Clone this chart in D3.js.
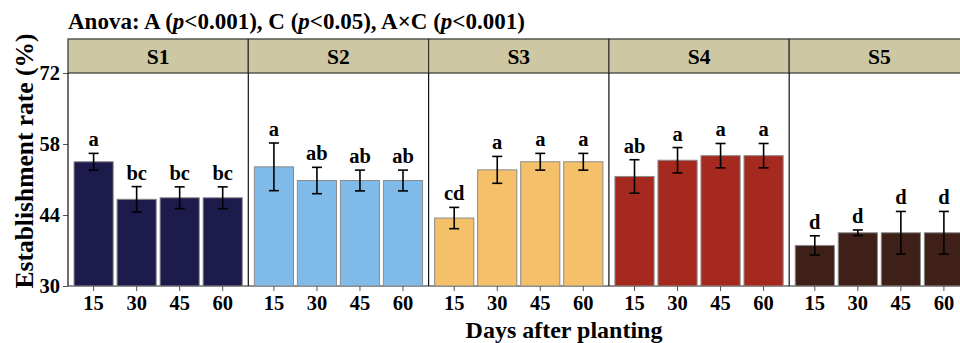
<!DOCTYPE html>
<html>
<head>
<meta charset="utf-8">
<script src="https://cdn.jsdelivr.net/npm/d3@7"></script>
<style>
  body { margin: 0; background: #fff; }
  svg { display: block; }
  text { font-family: "Liberation Serif", "Times New Roman", serif; font-weight: bold; }
</style>
</head>
<body>
<svg id="chart" width="960" height="343"></svg>
<script>
// data
const panels = ["S1", "S2", "S3", "S4", "S5"];
const days = ["15", "30", "45", "60"];
const colors = ["#1d1b4c", "#7fbae8", "#f4c06a", "#a6291f", "#3e2018"];
const means = [
    [54.5, 47.1, 47.4, 47.4],
    [53.5, 50.8, 50.8, 50.8],
    [43.4, 52.9, 54.5, 54.5],
    [51.6, 54.8, 55.7, 55.7],
    [38.0, 40.5, 40.5, 40.5]
];
const errs = [
    [1.65, 2.5, 2.15, 2.15],
    [4.7, 2.6, 2.05, 2.05],
    [2.1, 2.65, 1.65, 1.65],
    [3.3, 2.5, 2.4, 2.4],
    [1.9, 0.55, 4.2, 4.2]
];
const letters = [
    ["a", "bc", "bc", "bc"],
    ["a", "ab", "ab", "ab"],
    ["cd", "a", "a", "a"],
    ["ab", "a", "a", "a"],
    ["d", "d", "d", "d"]
];
const yTicks = [30, 44, 58, 72];

const svg = d3.select("#chart");
const left = 68, panelW = 180.3;
const stripTop = 39, plotTop = 73, plotBottom = 286;

const y = d3.scaleLinear().domain([30, 72]).range([plotBottom, plotTop]);
const px = d3.scaleBand().domain(panels).range([left, left + panelW * panels.length]);
const x = d3.scaleBand().domain(days).range([0, panelW]).paddingInner(0.09).paddingOuter(0.14);

// title
const title = svg.append("text")
    .attr("x", left)
    .attr("y", 29)
    .style("font-size", "23px");
const parts = [["Anova: A (", false], ["p", true], ["<0.001), C (", false], ["p", true],
               ["<0.05), A\u00d7C (", false], ["p", true], ["<0.001)", false]];
parts.forEach(p => title.append("tspan").text(p[0]).style("font-style", p[1] ? "italic" : "normal"));

// y axis
const yAxis = svg.append("g")
    .attr("transform", `translate(${left},0)`)
    .call(d3.axisLeft(y).tickValues(yTicks).tickSize(5).tickPadding(3));
yAxis.select(".domain").remove();
yAxis.selectAll(".tick line").attr("stroke", "#555");
yAxis.selectAll(".tick text").style("font-size", "20.5px").attr("fill", "#000").attr("dy", "0.34em");

panels.forEach((p, i) => {
    const g = svg.append("g").attr("transform", `translate(${px(p)},0)`);

    // strip
    g.append("rect")
        .attr("x", 0).attr("y", stripTop)
        .attr("width", panelW).attr("height", plotTop - stripTop)
        .attr("fill", "#cdc8a3")
        .attr("stroke", "#333").attr("stroke-width", 1.2);
    g.append("text")
        .attr("x", panelW / 2).attr("y", (stripTop + plotTop) / 2)
        .attr("dy", "0.35em")
        .attr("text-anchor", "middle")
        .style("font-size", "21.5px")
        .text(p);

    // panel left border and bottom
    g.append("line")
        .attr("x1", 0).attr("x2", 0)
        .attr("y1", plotTop).attr("y2", plotBottom)
        .attr("stroke", "#111").attr("stroke-width", 1.2);
    g.append("line")
        .attr("x1", 0).attr("x2", panelW)
        .attr("y1", plotBottom).attr("y2", plotBottom)
        .attr("stroke", "#222").attr("stroke-width", 1);

    const rows = days.map((d, j) => ({ day: d, v: means[i][j], e: errs[i][j], lab: letters[i][j] }));

    g.selectAll("rect.bar")
        .data(rows)
        .join("rect")
        .attr("class", "bar")
        .attr("x", d => x(d.day))
        .attr("y", d => y(d.v))
        .attr("width", x.bandwidth())
        .attr("height", d => y(30) - y(d.v))
        .attr("fill", colors[i])
        .attr("stroke", "#8c8c8c")
        .attr("stroke-width", 1);

    const cx = d => x(d.day) + x.bandwidth() / 2;
    const eb = g.append("g").attr("stroke", "#000").attr("stroke-width", 1.6);
    eb.selectAll("line.v").data(rows).join("line").attr("class", "v")
        .attr("x1", cx).attr("x2", cx)
        .attr("y1", d => y(d.v + d.e)).attr("y2", d => y(d.v - d.e));
    eb.selectAll("line.t").data(rows).join("line").attr("class", "t")
        .attr("x1", d => cx(d) - 5).attr("x2", d => cx(d) + 5)
        .attr("y1", d => y(d.v + d.e)).attr("y2", d => y(d.v + d.e));
    eb.selectAll("line.b").data(rows).join("line").attr("class", "b")
        .attr("x1", d => cx(d) - 5).attr("x2", d => cx(d) + 5)
        .attr("y1", d => y(d.v - d.e)).attr("y2", d => y(d.v - d.e));

    g.selectAll("text.lab")
        .data(rows)
        .join("text")
        .attr("class", "lab")
        .attr("x", cx)
        .attr("y", d => y(d.v + d.e) - 7)
        .attr("text-anchor", "middle")
        .style("font-size", "20.5px")
        .text(d => d.lab);

    // x axis
    const xa = g.append("g")
        .attr("transform", `translate(0,${plotBottom})`)
        .call(d3.axisBottom(x).tickSize(5).tickPadding(4));
    xa.select(".domain").remove();
    xa.selectAll(".tick line").attr("stroke", "#555");
    xa.selectAll(".tick text").style("font-size", "20.5px").attr("fill", "#000");
});

// axis titles
svg.append("text")
    .attr("transform", "translate(33,161) rotate(-90)")
    .attr("text-anchor", "middle")
    .style("font-size", "25.5px")
    .text("Establishment rate (%)");

svg.append("text")
    .attr("x", 564)
    .attr("y", 338)
    .attr("text-anchor", "middle")
    .style("font-size", "24px")
    .text("Days after planting");
</script>
</body>
</html>
